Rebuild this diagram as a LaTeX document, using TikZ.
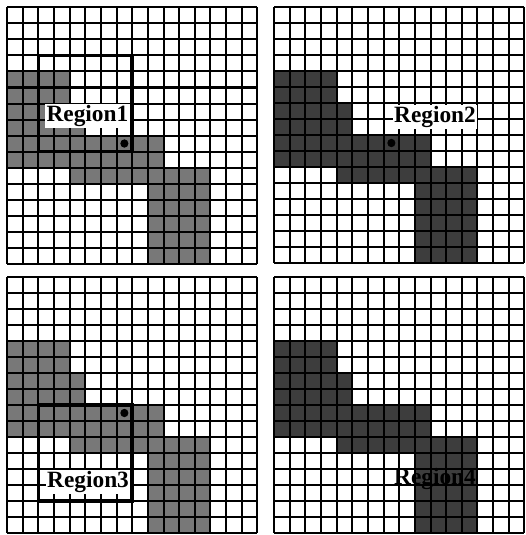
\documentclass[tikz,border=0pt]{standalone}
\usepackage{fontspec}
\setmainfont{Liberation Serif}
\definecolor{lightshade}{gray}{0.47}
\definecolor{darkshade}{gray}{0.24}
\tikzset{
  gridline/.style={line width=1.5pt, black},
  shapefill/.style={fill=#1, draw=none},
  regionbox/.style={line width=2.6pt, black},
  regionlabel/.style={font=\bfseries\fontsize{17.5}{18}\selectfont, inner sep=1pt, text=black},
  centerdot/.style={fill=black, draw=none},
}
\newcommand{\drawpanel}[5]{%
  \begin{scope}[shift={(#1,#2)}]
  \begin{scope}[x=11.7375pt,y=-12pt]
    \path[shapefill=#3] (0,4) -- (4,4) -- (4,6) -- (5,6) -- (5,8) -- (10,8) -- (10,10)
      -- (13,10) -- (13,16) -- (9,16) -- (9,11) -- (4,11) -- (4,10) -- (0,10) -- cycle;
    \foreach \k in {0,...,16} {
      \draw[gridline] (\k,0) -- (\k,16);
      \draw[gridline] (0,\k) -- (16,\k);
    }
    #4
    #5
  \end{scope}
  \end{scope}}
\begin{document}
\begin{tikzpicture}[x=0.75pt,y=-0.75pt]
  \path[use as bounding box] (0,0) rectangle (525,535);
  \fill[white] (0,0) rectangle (525,535);
  % panel 1
  \drawpanel{7}{7.5}{lightshade}{%
    \draw[regionbox] (2,3) rectangle (8,9);
    \fill[centerdot] (7.5,8.5) circle (0.26);}{%
    \node[regionlabel, fill=white] (r1) at (5.14,6.78) {Region1};}
  % panel 2
  \drawpanel{274}{7}{darkshade}{%
    \fill[centerdot] (7.5,8.5) circle (0.26);}{%
    \node[regionlabel, fill=white] (r2) at (10.29,6.88) {Region2};}
  % panel 3
  \drawpanel{7}{277}{lightshade}{%
    \draw[regionbox] (2,8) rectangle (8,14);
    \fill[centerdot] (7.5,8.5) circle (0.26);}{%
    \node[regionlabel, fill=white] (r3) at (5.18,12.8) {Region3};}
  % panel 4
  \drawpanel{274}{277}{darkshade}{}{%
    \node[regionlabel] (r4) at (10.29,12.65) {Region4};}
\end{tikzpicture}
\end{document}
